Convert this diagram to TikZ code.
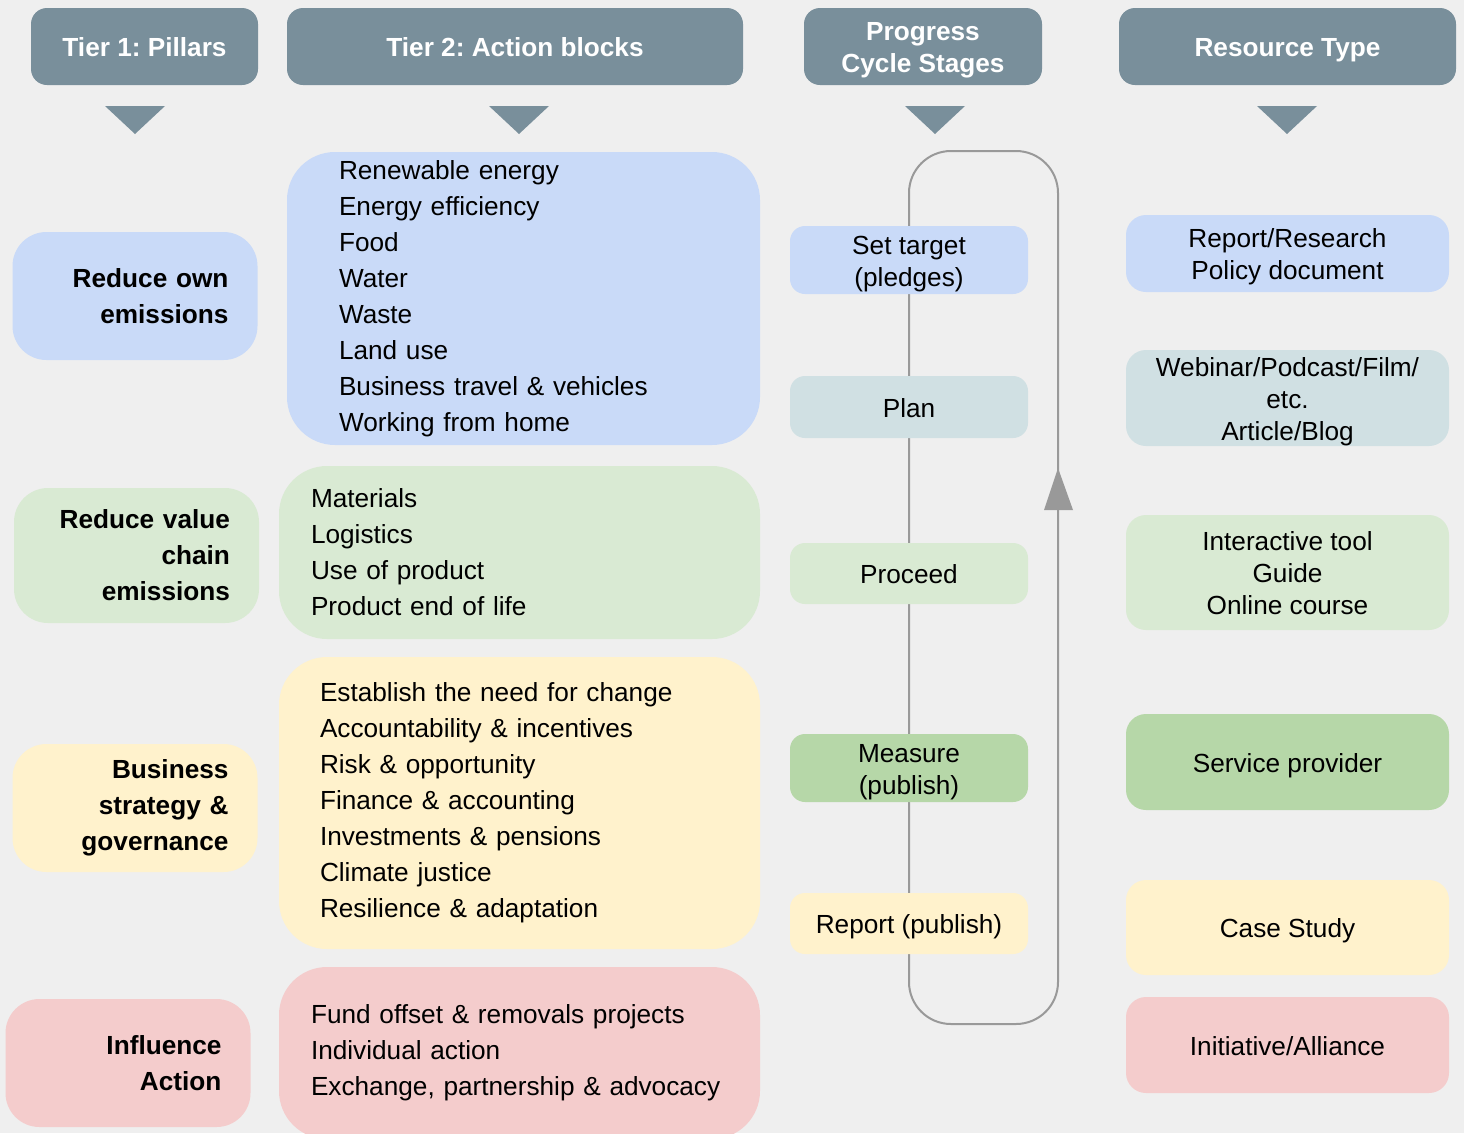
\documentclass[tikz,border=0pt]{standalone}
\usepackage{fontspec}
\setmainfont{Liberation Sans}
\usepackage{color}
\usepackage{tikz}
\frenchspacing

\definecolor{bgpage}{RGB}{239,239,239}
\definecolor{headgray}{RGB}{121,143,155}
\definecolor{loopgray}{RGB}{153,153,153}
\definecolor{tblue}{RGB}{201,218,248}
\definecolor{tteal}{RGB}{208,224,227}
\definecolor{tgreen}{RGB}{217,234,211}
\definecolor{tgreenB}{RGB}{182,215,168}
\definecolor{tyellow}{RGB}{255,242,204}
\definecolor{tred}{RGB}{244,204,204}

% even line boxes, so one- and two-line labels sit alike
\newcommand{\linestrut}{\rule[-5pt]{0pt}{30.5pt}}

\begin{document}
\begin{tikzpicture}[x=1pt,y=-1pt,
                    font=\fontsize{26.2}{36}\selectfont]
  \tikzstyle{head}=[fill=headgray,text=white,rounded corners=16pt,
                    minimum height=77pt,align=center,inner ysep=0pt,
                    execute at begin node=\linestrut,execute at end node=\linestrut,
                    font=\fontsize{26.2}{32}\selectfont\bfseries]
  \tikzstyle{pillar}=[rounded corners=34pt,minimum width=245pt,
                      minimum height=128pt,text width=187pt,align=right,
                      inner xsep=0pt,font=\fontsize{26.2}{36}\selectfont\bfseries]
  \tikzstyle{block}=[rounded corners=48pt,minimum width=481pt,
                     align=left,inner xsep=0pt]
  \tikzstyle{stage}=[rounded corners=15pt,minimum width=238pt,align=center,
                     inner ysep=0pt,
                     execute at begin node=\linestrut,execute at end node=\linestrut,
                     font=\fontsize{26.2}{32}\selectfont]
  \tikzstyle{res}=[rounded corners=20pt,minimum width=323pt,align=center,
                   inner ysep=0pt,
                   execute at begin node=\linestrut,execute at end node=\linestrut,
                   font=\fontsize{26.2}{32}\selectfont]

  \useasboundingbox (0,0) rectangle (1464,1133);
  \fill[bgpage] (0,0) rectangle (1464,1133);
  \clip (0,0) rectangle (1464,1133);

  % headers
  \node[head,minimum width=227pt] (tier1) at (144.5,46.5) {Tier 1: Pillars};
  \node[head,minimum width=456pt] (tier2) at (515,46.5)   {Tier 2: Action blocks};
  \node[head,minimum width=238pt] (cycle) at (923,46.5)   {\linestrut Progress\\Cycle Stages};
  \node[head,minimum width=337pt] (rtype) at (1287.5,46.5) {Resource Type};

  \foreach \x in {135,519,935,1287}
    \fill[headgray] (\x-30,106) -- (\x+30,106) -- (\x,134) -- cycle;

  % pillars
  \node[pillar,fill=tblue]   (own)   at (135,296)    {Reduce own\\emissions};
  \node[pillar,fill=tgreen,minimum height=135pt]
                             (chain) at (136.5,555.5) {Reduce value\\chain\\emissions};
  \node[pillar,fill=tyellow] (gov)   at (135,808)    {Business\\strategy \&\\governance};
  \node[pillar,fill=tred]    (infl)  at (128,1063)   {Influence\\Action};

  % action blocks
  \node[block,fill=tblue,minimum width=473pt,minimum height=293pt,text width=369pt]
        (ownact) at (523.5,298.5)
        {Renewable energy\\Energy efficiency\\Food\\Water\\Waste\\Land use\\
         Business travel \& vehicles\\Working from home};
  \node[block,fill=tgreen,minimum height=173pt,text width=417pt]
        (chainact) at (519.5,552.5)
        {Materials\\Logistics\\Use of product\\Product end of life};
  \node[block,fill=tyellow,minimum height=292pt,text width=399pt]
        (govact) at (519.5,803)
        {Establish the need for change\\Accountability \& incentives\\
         Risk \& opportunity\\Finance \& accounting\\Investments \& pensions\\
         Climate justice\\Resilience \& adaptation};
  \node[block,fill=tred,minimum height=172pt,text width=417pt]
        (inflact) at (519.5,1053)
        {Fund offset \& removals projects\\Individual action\\
         Exchange, partnership \& advocacy};

  % cycle loop (behind the stages)
  \coordinate (looptl) at (909,151);
  \coordinate (loopbr) at (1058,1024);
  \draw[loopgray,line width=2pt,rounded corners=42pt] (looptl) rectangle (loopbr);
  \fill[loopgray] (1058,468) -- (1073,510) -- (1044,510) -- cycle;

  \node[stage,fill=tblue,minimum height=68pt]   (target)  at (909,260)   {\linestrut Set target\\(pledges)};
  \node[stage,fill=tteal,minimum height=62pt]   (plan)    at (909,407)   {Plan};
  \node[stage,fill=tgreen,minimum height=61pt]  (proceed) at (909,573.5) {Proceed};
  \node[stage,fill=tgreenB,minimum height=68pt] (measure) at (909,768)   {\linestrut Measure\\(publish)};
  \node[stage,fill=tyellow,minimum height=61pt] (report)  at (909,923.5) {Report (publish)};

  % resource types
  \node[res,fill=tblue,minimum height=77pt]    (paper)    at (1287.5,253.5) {\linestrut Report/Research\\Policy document};
  \node[res,fill=tteal,minimum height=96pt]    (media)    at (1287.5,398)   {\linestrut Webinar/Podcast/Film/\\etc.\\Article/Blog};
  \node[res,fill=tgreen,minimum height=115pt]  (tool)     at (1287.5,572.5) {\linestrut Interactive tool\\Guide\\Online course};
  \node[res,fill=tgreenB,minimum height=96pt]  (provider) at (1287.5,762)   {Service provider};
  \node[res,fill=tyellow,minimum height=95pt]  (casestudy) at (1287.5,927.5) {Case Study};
  \node[res,fill=tred,minimum height=96pt]     (alliance) at (1287.5,1045)  {Initiative/Alliance};
\end{tikzpicture}
\end{document}
